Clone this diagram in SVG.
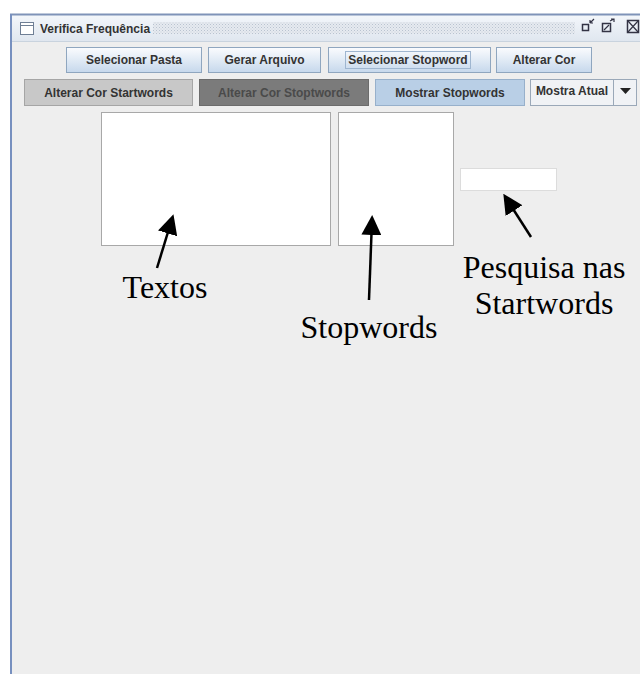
<svg xmlns="http://www.w3.org/2000/svg" width="640" height="674" viewBox="0 0 640 674">
<defs>
<style>
.btn{stroke:#8fa6bf;stroke-width:1}
.bt{font-family:"Liberation Sans",Arial,sans-serif;font-weight:bold;font-size:12px;fill:#333;text-anchor:middle}
.lbl{font-family:"Liberation Serif","Times New Roman",serif;font-size:32px;fill:#000;text-anchor:middle}
.box{fill:#fff;stroke:#a8a8a8;stroke-width:1}
.conn{stroke:#000;stroke-width:2.5;fill:none}
</style>
<linearGradient id="bg" x1="0" y1="0" x2="0" y2="1">
<stop offset="0" stop-color="#fbfcfe"/><stop offset="1" stop-color="#c6d8ec"/>
</linearGradient>
<linearGradient id="tg" x1="0" y1="0" x2="0" y2="1">
<stop offset="0" stop-color="#f4f7fb"/><stop offset="1" stop-color="#dfe6ef"/>
</linearGradient>
<pattern id="dots" width="3" height="3" patternUnits="userSpaceOnUse">
<rect width="3" height="3" fill="#e6eaf0"/><rect width="1" height="1" fill="#b9c3d0"/><rect x="1.5" y="1.5" width="1" height="1" fill="#c8d0da"/>
</pattern>
<marker id="ah" markerWidth="8" markerHeight="8" refX="6" refY="4" orient="auto" markerUnits="strokeWidth">
<path d="M0,0 L8,4 L0,8 Z" fill="#000"/>
</marker>
</defs>
<rect width="640" height="674" fill="#ffffff"/>
<g id="window">
<rect x="10" y="14" width="630" height="660" fill="#eeeeee"/>
<rect x="10" y="14" width="630" height="28" fill="url(#tg)"/>
<line x1="10" y1="14.5" x2="640" y2="14.5" stroke="#7f93b8" stroke-width="2"/>
<line x1="10" y1="41.5" x2="640" y2="41.5" stroke="#c9d3de"/>
<rect x="10" y="14" width="2" height="660" fill="#7790bf"/>
<rect x="153" y="22" width="422" height="12" fill="url(#dots)"/>
<rect x="20.5" y="22.5" width="13" height="12" fill="#fff" stroke="#6f7f95"/>
<line x1="20.5" y1="25.5" x2="33.5" y2="25.5" stroke="#6f7f95"/>
<text x="40" y="33" font-family="'Liberation Sans',Arial,sans-serif" font-weight="bold" font-size="12" fill="#333">Verifica Frequência</text>
<rect x="582.5" y="24.5" width="6" height="6" fill="none" stroke="#334" stroke-width="1.5"/>
<path d="M590,23 L594,19 M590,23 L593,23 M590,23 L590,20" stroke="#334" stroke-width="1.2" fill="none"/>
<rect x="602.5" y="23.5" width="8" height="8" fill="none" stroke="#334" stroke-width="1.5"/>
<path d="M604,30 L609,25 M610,21 L614,19 M611,19 L614,19 L614,22" stroke="#334" stroke-width="1.2" fill="none"/>
<rect x="627.5" y="20.5" width="11" height="12" fill="none" stroke="#334" stroke-width="1.5"/>
<path d="M628,21 L638,32 M638,21 L628,32" stroke="#334" stroke-width="1.2"/>
</g>
<g id="btn-selecionar-pasta"><rect class="btn" x="66.5" y="47.5" width="135" height="25" fill="url(#bg)"/><text class="bt" x="134" y="64">Selecionar Pasta</text></g>
<g id="btn-gerar-arquivo"><rect class="btn" x="208.5" y="47.5" width="112" height="25" fill="url(#bg)"/><text class="bt" x="264.5" y="64">Gerar Arquivo</text></g>
<g id="btn-selecionar-stopword"><rect class="btn" x="328.5" y="47.5" width="162" height="25" fill="url(#bg)"/><rect x="345.5" y="51.5" width="125" height="17" fill="none" stroke="#9fb6d0" stroke-width="1"/><text class="bt" x="408" y="64">Selecionar Stopword</text></g>
<g id="btn-alterar-cor"><rect class="btn" x="496.5" y="47.5" width="95" height="25" fill="url(#bg)"/><text class="bt" x="544" y="64">Alterar Cor</text></g>
<g id="btn-cor-startwords"><rect x="24.5" y="79.5" width="168" height="26" fill="#c8c8c8" stroke="#a5a5a5"/><text class="bt" x="108.5" y="97">Alterar Cor Startwords</text></g>
<g id="btn-cor-stoptwords"><rect x="199.5" y="79.5" width="169" height="26" fill="#7b7b7b" stroke="#6c6c6c"/><text class="bt" x="284" y="97" style="fill:#4a4a4a">Alterar Cor Stoptwords</text></g>
<g id="btn-mostrar-stopwords"><rect x="375.5" y="79.5" width="149" height="26" fill="#b9cfe6" stroke="#97b0cb"/><text class="bt" x="450" y="97">Mostrar Stopwords</text></g>
<g id="combo-mostra-atual">
<rect x="530.5" y="79.5" width="106" height="26" fill="#f0f2f5" stroke="#9aa8b8"/>
<line x1="613.5" y1="80" x2="613.5" y2="105" stroke="#9aa8b8"/>
<text x="572" y="95" font-family="'Liberation Sans',Arial,sans-serif" font-weight="bold" font-size="12" fill="#333" text-anchor="middle">Mostra Atual</text>
<path d="M620,88 L631,88 L625.5,94 Z" fill="#222"/>
</g>
<g id="textos-area"><rect class="box" x="101.5" y="112.5" width="229" height="133"/></g>
<g id="stopwords-area"><rect class="box" x="338.5" y="112.5" width="115" height="133"/></g>
<g id="pesquisa-field"><rect x="460.5" y="168.5" width="96" height="22" fill="#fff" stroke="#dcdcdc"/></g>
<g id="connectors">
<line class="conn" x1="157" y1="268" x2="172" y2="219" marker-end="url(#ah)"/>
<line class="conn" x1="369" y1="300" x2="372" y2="220" marker-end="url(#ah)"/>
<line class="conn" x1="531" y1="237" x2="506" y2="198" marker-end="url(#ah)"/>
</g>
<g id="label-textos"><text class="lbl" x="165" y="298">Textos</text></g>
<g id="label-stopwords"><text class="lbl" x="369" y="338">Stopwords</text></g>
<g id="label-pesquisa"><text class="lbl" x="544" y="278">Pesquisa nas</text><text class="lbl" x="544" y="314">Startwords</text></g>
</svg>
